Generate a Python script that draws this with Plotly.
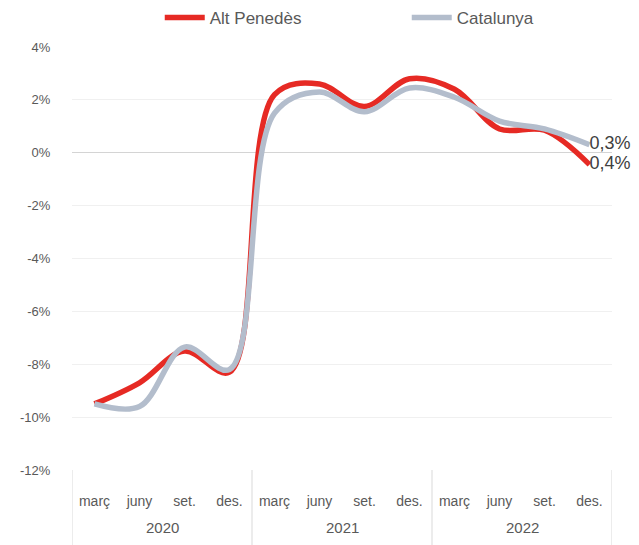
import plotly.graph_objects as go

years = ["2020"] * 4 + ["2021"] * 4 + ["2022"] * 4
months = ["març", "juny", "set.", "des."] * 3
alt_penedes = [-9.5, -8.7, -7.5, -8.3, 2.2, 2.6, 1.75, 2.8, 2.4, 0.9, 0.85, -0.45]
catalunya = [-9.5, -9.6, -7.35, -8.2, 1.5, 2.3, 1.55, 2.45, 2.1, 1.2, 0.9, 0.3]
end_labels = {"Alt Penedès": "0,4%", "Catalunya": "0,3%"}
y_ticks = [4, 2, 0, -2, -4, -6, -8, -10, -12]
y_ticktext = ["4%", "2%", "0%", "-2%", "-4%", "-6%", "-8%", "-10%", "-12%"]

font_family = "Liberation Sans, Arial, sans-serif"
text_col = "#595959"

categories = [f"{m} {y}" for m, y in zip(months, years)]


def end_text(name, n):
    return [""] * (n - 1) + [end_labels[name]]


fig = go.Figure()
fig.add_trace(go.Scatter(
    x=categories, y=alt_penedes, name="Alt Penedès",
    mode="lines+text", text=end_text("Alt Penedès", len(alt_penedes)),
    textposition="middle right", textfont=dict(size=18, color="#404040", family=font_family),
    line=dict(color="#e62a24", width=5.5, shape="spline", smoothing=1.0),
    cliponaxis=False,
))
fig.add_trace(go.Scatter(
    x=categories, y=catalunya, name="Catalunya",
    mode="lines+text", text=end_text("Catalunya", len(catalunya)),
    textposition="middle right", textfont=dict(size=18, color="#404040", family=font_family),
    line=dict(color="#b3bdcc", width=5.5, shape="spline", smoothing=1.0),
    cliponaxis=False,
))

# year group labels and dividers, derived from the year list
groups = []
for i, y in enumerate(years):
    if not groups or groups[-1][0] != y:
        groups.append([y, i, i])
    else:
        groups[-1][2] = i

annotations = []
shapes = []
for y, i0, i1 in groups:
    annotations.append(dict(x=(i0 + i1) / 2, y=-0.135, xref="x", yref="paper",
                            text=y, showarrow=False, yanchor="middle",
                            font=dict(size=15, color=text_col, family=font_family)))
    shapes.append(dict(type="line", xref="x", yref="paper", x0=i0 - 0.5, x1=i0 - 0.5,
                       y0=0, y1=-0.18, line=dict(color="#d9d9d9", width=1)))
last = groups[-1][2]
shapes.append(dict(type="line", xref="x", yref="paper", x0=last + 0.5, x1=last + 0.5,
                   y0=0, y1=-0.18, line=dict(color="#d9d9d9", width=1)))

fig.update_layout(
    width=639, height=545,
    margin=dict(l=72, r=27, t=47, b=75, autoexpand=False),
    paper_bgcolor="white", plot_bgcolor="white",
    font=dict(family=font_family, color=text_col, size=13),
    showlegend=True,
    legend=dict(orientation="h", x=0.25, xanchor="left", xref="container",
                y=0.967, yanchor="middle", yref="container",
                font=dict(size=17, color=text_col), itemwidth=40,
                entrywidth=192, entrywidthmode="pixels",
                traceorder="normal"),
    xaxis=dict(type="category", showgrid=False, showline=False, automargin=False,
               tickvals=categories, ticktext=months,
               tickfont=dict(size=14, color=text_col),
               ticks="outside", ticklen=18, tickcolor="rgba(0,0,0,0)",
               range=[-0.5, len(categories) - 0.5]),
    yaxis=dict(range=[-12, 4], tickvals=y_ticks, ticktext=y_ticktext, automargin=False,
               showgrid=True, gridcolor="#f0f0f0", zeroline=True,
               zerolinecolor="#d4d4d4", zerolinewidth=1,
               tickfont=dict(size=13, color=text_col), ticks="outside", ticklen=18,
               tickcolor="rgba(0,0,0,0)", showline=False),
    annotations=annotations,
    shapes=shapes,
)

fig.write_html("out.html", config={"displayModeBar": False},
               post_script="document.body.style.margin='0';document.body.style.overflow='hidden';")
